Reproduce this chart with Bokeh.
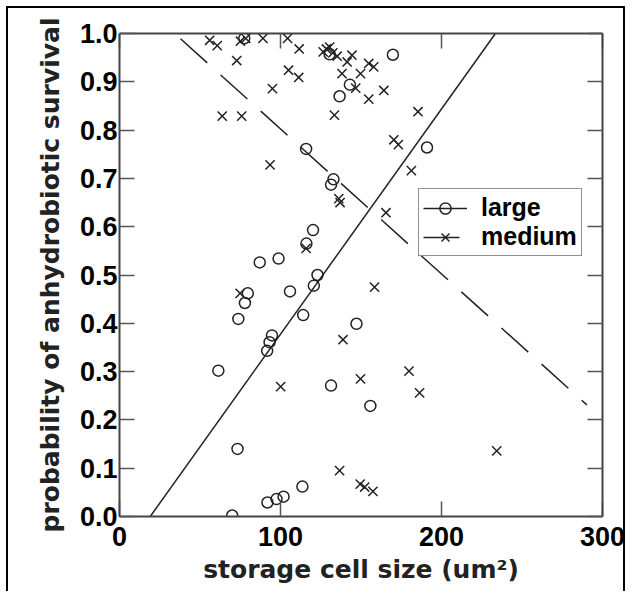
from bokeh.plotting import figure
from bokeh.models import (Range1d, LinearAxis, FixedTicker, PrintfTickFormatter,
                          Legend, LegendItem)
from bokeh.embed import file_html
from bokeh.resources import INLINE

# ---- data ----
large_x = [169.8, 143.1, 136.7, 115.9, 191.0, 132.9, 131.4, 120.2, 116.1, 87.1,
           98.8, 123.0, 120.7, 105.9, 79.7, 77.9, 73.8, 114.1, 147.2, 94.7,
           93.2, 91.7, 61.4, 131.4, 155.8, 73.3, 113.6, 101.9, 97.5, 91.9,
           70.0, 130.5, 77.5]
large_y = [0.956, 0.894, 0.870, 0.761, 0.764, 0.698, 0.687, 0.593, 0.565, 0.526,
           0.534, 0.500, 0.478, 0.466, 0.462, 0.442, 0.409, 0.417, 0.399, 0.375,
           0.361, 0.343, 0.302, 0.271, 0.229, 0.140, 0.062, 0.041, 0.036, 0.029,
           0.002, 0.957, 0.990]

medium_x = [56.0, 60.7, 75.1, 78.4, 89.1, 104.4, 111.6, 72.8, 105.0, 111.3,
            95.0, 63.8, 75.9, 93.5, 126.5, 128.5, 130.5, 132.5, 135.2, 144.4,
            141.4, 138.2, 149.7, 154.8, 157.9, 146.7, 154.8, 164.2, 133.5, 185.4,
            170.4, 173.2, 181.3, 136.2, 137.0, 165.5, 115.9, 74.9, 158.4, 138.8,
            149.7, 179.8, 186.4, 100.1, 234.3, 136.7, 149.5, 152.3, 157.4]
medium_y = [0.986, 0.975, 0.984, 0.990, 0.990, 0.990, 0.968, 0.944, 0.924, 0.909,
            0.886, 0.829, 0.829, 0.728, 0.962, 0.968, 0.972, 0.960, 0.953, 0.955,
            0.941, 0.917, 0.917, 0.938, 0.931, 0.887, 0.864, 0.882, 0.831, 0.838,
            0.780, 0.770, 0.716, 0.658, 0.650, 0.629, 0.555, 0.462, 0.475, 0.366,
            0.285, 0.301, 0.256, 0.269, 0.136, 0.095, 0.067, 0.061, 0.052]

# fitted lines (end points)
large_fit_x = [19.1, 233.5]
large_fit_y = [0.0, 1.0]
medium_fit_x = [37.9, 290.3]
medium_fit_y = [0.989, 0.231]

x_ticks = [0, 100, 200, 300]
y_ticks = [0.0, 0.1, 0.2, 0.3, 0.4, 0.5, 0.6, 0.7, 0.8, 0.9, 1.0]

TICK_FONT = "Liberation Sans"
LABEL_FONT = "DejaVu Sans"
INK = "#222222"

p = figure(width=627, height=591, output_backend="svg", toolbar_location=None,
           x_range=Range1d(0, 300), y_range=Range1d(0, 1),
           x_axis_location=None, y_axis_location=None,
           min_border_left=119, min_border_right=25,
           min_border_top=33, min_border_bottom=75)
p.grid.visible = False
p.outline_line_color = None
p.background_fill_color = "white"
p.border_fill_color = None
# outer picture border (left, top, right) drawn as CSS backgrounds behind the canvas
p.styles = {
    "background": ("linear-gradient(#000,#000) 6px 6px / 2px calc(100% - 6px) no-repeat, "
                   "linear-gradient(#000,#000) 6px 6px / calc(100% - 10px) 2px no-repeat, "
                   "linear-gradient(#000,#000) calc(100% - 2px) 6px / 2px calc(100% - 6px) no-repeat, "
                   "white"),
}

ax_b = LinearAxis()
ax_l = LinearAxis()
ax_r = LinearAxis()
ax_t = LinearAxis()
p.add_layout(ax_b, "below")
p.add_layout(ax_l, "left")
p.add_layout(ax_r, "right")
p.add_layout(ax_t, "above")

for ax in [ax_b, ax_t]:
    ax.ticker = FixedTicker(ticks=x_ticks)
for ax in [ax_l, ax_r]:
    ax.ticker = FixedTicker(ticks=y_ticks)
    ax.formatter = PrintfTickFormatter(format="%.1f")

for ax in [ax_b, ax_l, ax_r, ax_t]:
    ax.axis_line_color = "#444444"
    ax.axis_line_width = 2
    ax.major_tick_line_color = "#555555"
    ax.major_tick_line_width = 1.5
    ax.major_tick_in = 15
    ax.major_tick_out = 0
    ax.minor_tick_line_color = None
    ax.major_label_text_font = TICK_FONT
    ax.major_label_text_font_style = "bold"
    ax.major_label_text_font_size = "27px"
    ax.major_label_text_color = "black"
    ax.axis_label_text_font = LABEL_FONT
    ax.axis_label_text_font_style = "bold"
    ax.axis_label_text_font_size = "25px"
    ax.axis_label_text_color = INK

for ax in [ax_r, ax_t]:
    ax.major_label_text_font_size = "1px"
    ax.major_label_text_color = None
    ax.major_label_standoff = 0

ax_l.major_label_standoff = 2
ax_b.major_label_standoff = 10
ax_l.axis_label = "probability of anhydrobiotic survival"
ax_b.axis_label = "storage cell size (um\u00b2)"
ax_l.axis_label_standoff = 12
ax_b.axis_label_standoff = 6

line_l = p.line(large_fit_x, large_fit_y, line_color=INK, line_width=1.5)
line_m = p.line(medium_fit_x, medium_fit_y, line_color=INK, line_width=1.5,
                line_dash="36 18")
sc_l = p.scatter(large_x, large_y, marker="circle", size=11, fill_color=None,
                 line_color=INK, line_width=1.5)
sc_m = p.scatter(medium_x, medium_y, marker="x", size=13,
                 line_color=INK, line_width=1.5)

legend = Legend(items=[LegendItem(label="large", renderers=[line_l, sc_l]),
                       LegendItem(label="medium", renderers=[line_m, sc_m])],
                location=(299, 260))
legend.label_text_font = TICK_FONT
legend.label_text_font_style = "bold"
legend.label_text_font_size = "25px"
legend.label_text_color = "black"
legend.border_line_color = INK
legend.border_line_width = 1.5
legend.background_fill_alpha = 1
legend.padding = 4
legend.spacing = 0
legend.margin = 0
legend.glyph_width = 44
legend.glyph_height = 28
legend.label_height = 28
legend.label_standoff = 14
p.add_layout(legend, "center")

open("out.html", "w").write(file_html(p, INLINE))
